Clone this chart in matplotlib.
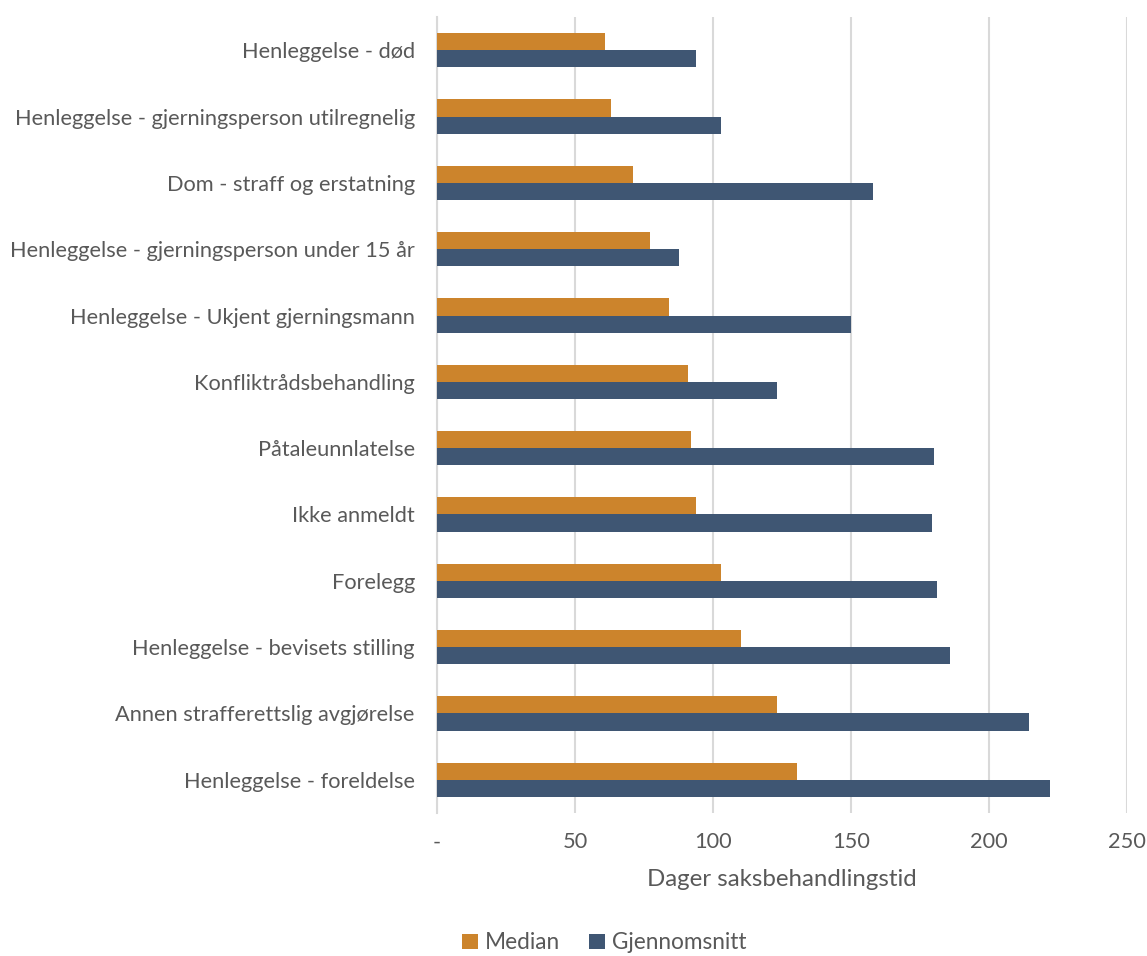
import matplotlib.pyplot as plt
import numpy as np

# Saksbehandlingstid per avgjørelsestype (dager)
categories = [
    "Henleggelse - død",
    "Henleggelse - gjerningsperson utilregnelig",
    "Dom - straff og erstatning",
    "Henleggelse - gjerningsperson under 15 år",
    "Henleggelse - Ukjent gjerningsmann",
    "Konfliktrådsbehandling",
    "Påtaleunnlatelse",
    "Ikke anmeldt",
    "Forelegg",
    "Henleggelse - bevisets stilling",
    "Annen strafferettslig avgjørelse",
    "Henleggelse - foreldelse",
]
median = [61, 63, 71, 77, 84, 91, 92, 94, 103, 110, 123, 130.5]
mean = [94, 103, 158, 87.5, 150, 123, 180, 179.5, 181, 186, 214.5, 222]

xticks = [0, 50, 100, 150, 200, 250]
xticklabels = ["-", "50", "100", "150", "200", "250"]

c_median = '#CC842C'
c_mean = '#3F5673'
txt = '#595959'

plt.rcParams['font.family'] = ['Lato', 'DejaVu Sans']

fig = plt.figure(figsize=[11.47, 9.56], dpi=100)
ax = fig.add_axes([0.381, 0.1496, 0.6016, 0.8326])

y = np.arange(len(categories))
h = 0.26
ax.barh(y - h/2, median, height=h, color=c_median, label='Median', zorder=3)
ax.barh(y + h/2, mean, height=h, color=c_mean, label='Gjennomsnitt', zorder=3)

ax.set_ylim(len(categories) - 0.5, -0.5)
ax.set_xlim(0, 250)
ax.set_yticks(y)
ax.set_yticklabels(categories, fontsize=15.7, color=txt)
ax.set_xticks(xticks)
ax.set_xticklabels(xticklabels, fontsize=15.7, color=txt)
ax.tick_params(axis='y', length=0, pad=16)
ax.tick_params(axis='x', length=0, pad=14)

ax.grid(axis='x', color='#D9D9D9', linewidth=1.5, zorder=0)
for s in ['top', 'right', 'bottom']:
    ax.spines[s].set_visible(False)
ax.spines['left'].set_color('#D9D9D9')
ax.spines['left'].set_linewidth(1.5)

ax.set_xlabel('Dager saksbehandlingstid', fontsize=17.3, color=txt, labelpad=12)

fig.legend(loc='center', bbox_to_anchor=(0.527, 0.0136), ncol=2, frameon=False,
           fontsize=16.3, labelcolor=txt, handlelength=0.7, handleheight=0.7,
           handletextpad=0.3, columnspacing=1.3)

plt.savefig('out.png', dpi=100)
plt.close(fig)
